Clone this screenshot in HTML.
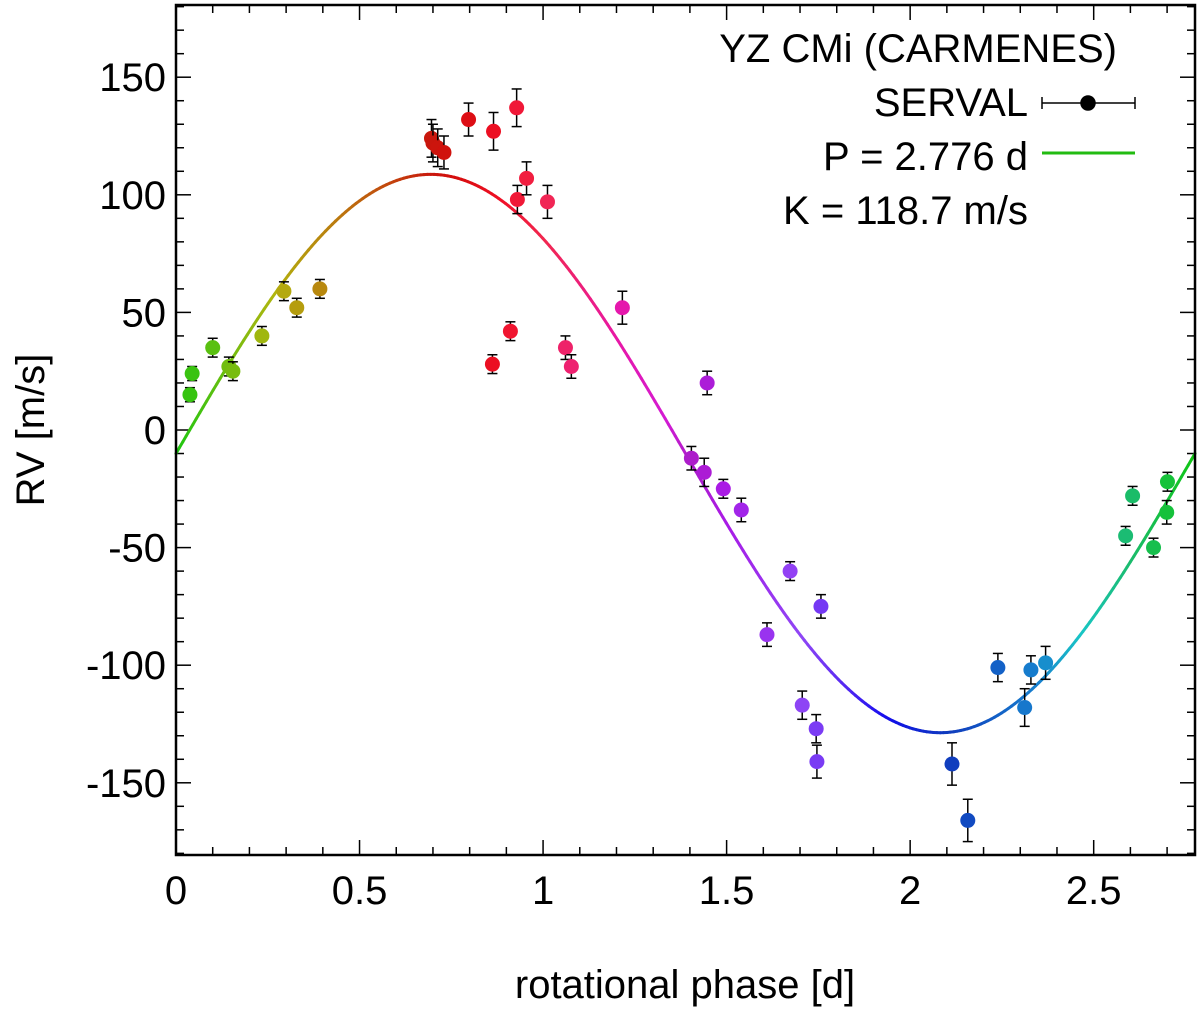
<!DOCTYPE html>
<html><head><meta charset="utf-8"><style>
body{margin:0;background:#fff}
svg{display:block;font-family:"Liberation Sans",sans-serif}
</style></head><body>
<svg id="c" width="1200" height="1010"></svg>
<script>
const phases=[0.044,0.038,0.10,0.144,0.155,0.234,0.294,0.329,0.392,0.696,0.70,0.713,0.73,0.797,0.865,0.862,0.911,0.928,0.93,0.955,1.012,1.061,1.077,1.216,1.404,1.439,1.447,1.491,1.54,1.61,1.673,1.757,1.706,1.744,1.746,2.114,2.157,2.239,2.312,2.329,2.369,2.587,2.606,2.663,2.699,2.701];
const rvs=[24,15,35,27,25,40,59,52,60,124,122,120,118,132,127,28,42,137,98,107,97,35,27,52,-12,-18,20,-25,-34,-87,-60,-75,-117,-127,-141,-142,-166,-101,-118,-102,-99,-45,-28,-50,-35,-22];
const errs=[3,3,4,4,4,4,4,4,4,8,8,8,7,7,8,4,4,8,6,7,7,5,5,7,5,6,5,4,5,5,4,5,6,6,7,9,9,6,8,6,7,4,4,4,5,4];
const xTicks=[0,0.5,1,1.5,2,2.5];
const xTickLabels=["0","0.5","1","1.5","2","2.5"];
const yTicks=[-150,-100,-50,0,50,100,150];
const yTickLabels=["-150","-100","-50","0","50","100","150"];
const P=2.776, K=118.7, off=-10;
const L=176,R=1195,T=5,B=855, X0=0,X1=2.776,Y0=-180.7,Y1=180.7;
const sx=v=>L+(v-X0)/(X1-X0)*(R-L);
const sy=v=>B-(v-Y0)/(Y1-Y0)*(B-T);
const svg=document.getElementById('c');const NS="http://www.w3.org/2000/svg";
function mk(t,a,p){const e=document.createElementNS(NS,t);for(const k in a)e.setAttribute(k,a[k]);(p||svg).appendChild(e);return e;}
// colour map control points [phase, hue, sat, light]
const cp=[[0,115,85,42],[0.3,55,85,38],[0.7,3,88,42],[1.0,-12,88,55],[1.4,-70,75,45],[1.7,-95,90,62],[2.1,-135,85,40],[2.35,-155,80,45],[2.6,-210,75,42],[2.776,-240,85,42]];
function col(ph){for(let i=0;i<cp.length-1;i++){const a=cp[i],b=cp[i+1];if(ph<=b[0]||i==cp.length-2){const t=Math.max(0,Math.min(1,(ph-a[0])/(b[0]-a[0])));
 const h=a[1]+(b[1]-a[1])*t,s=a[2]+(b[2]-a[2])*t,l=a[3]+(b[3]-a[3])*t;return `hsl(${((h%360)+360)%360},${s}%,${l}%)`;}}}
const tg=mk('g',{stroke:'#000','stroke-width':1.5});


for(let i=0;i<=27;i++){const v=i*0.1;const x=sx(v);const maj=Math.abs(v*2-Math.round(v*2))<1e-6;const l=maj?15:8;
 mk('line',{x1:x,y1:B,x2:x,y2:B-l},tg);mk('line',{x1:x,y1:T,x2:x,y2:T+l},tg);}
for(let v=-180;v<=180;v+=10){const y=sy(v);const l=v%50===0?15:8;
 mk('line',{x1:L,y1:y,x2:L+l,y2:y},tg);mk('line',{x1:R,y1:y,x2:R-l,y2:y},tg);}
xTicks.forEach((v,i)=>{const t=mk('text',{x:sx(v),y:904,'font-size':40,'text-anchor':'middle'});t.textContent=xTickLabels[i];

});
yTicks.forEach((v,i)=>{const t=mk('text',{x:166,y:sy(v)+14,'font-size':40,'text-anchor':'end'});t.textContent=yTickLabels[i];

});
const cg=mk('g',{'stroke-width':3,fill:'none'});


const N=300;for(let i=0;i<N;i++){const a=X1*i/N,b=X1*(i+1)/N;const f=p=>off+K*Math.sin(2*Math.PI*p/P);
 mk('line',{x1:sx(a),y1:sy(f(a)),x2:sx(b),y2:sy(f(b)),stroke:col(a),'stroke-linecap':'round'},cg);}
phases.forEach((p,i)=>{const g=mk('g',{});
 
 
 const x=sx(p),y1=sy(rvs[i]+errs[i]),y2=sy(rvs[i]-errs[i]);
 mk('line',{x1:x,y1:y1,x2:x,y2:y2,stroke:'#000','stroke-width':1.5},g);
 mk('line',{x1:x-5,y1:y1,x2:x+5,y2:y1,stroke:'#000','stroke-width':1.5},g);
 mk('line',{x1:x-5,y1:y2,x2:x+5,y2:y2,stroke:'#000','stroke-width':1.5},g);
 mk('circle',{cx:x,cy:sy(rvs[i]),r:7.5,fill:col(p)},g);});
const fr=mk('rect',{x:L,y:T,width:R-L,height:B-T,fill:'none',stroke:'#000','stroke-width':2.5});


</script>
<svg style="position:absolute;left:0;top:0" width="1200" height="1010">
<text x="685" y="998" font-size="40" text-anchor="middle" font-family="Liberation Sans, sans-serif">rotational phase [d]</text>
<text transform="translate(44,430) rotate(-90)" font-size="40" text-anchor="middle" font-family="Liberation Sans, sans-serif">RV [m/s]</text>
<g font-size="40" text-anchor="end" font-family="Liberation Sans, sans-serif">
<text x="1117" y="62">YZ CMi (CARMENES)</text>
<text x="1028" y="116">SERVAL</text>
<text x="1028" y="170">P = 2.776 d</text>
<text x="1028" y="224">K = 118.7 m/s</text>
</g>
<g stroke="#000" stroke-width="1.5">
<line x1="1042" y1="103" x2="1135" y2="103"/><line x1="1042" y1="97" x2="1042" y2="109"/><line x1="1135" y1="97" x2="1135" y2="109"/>
<circle cx="1088" cy="103" r="7" fill="#000"/></g>
<line x1="1042" y1="153" x2="1135" y2="153" stroke="#22bb11" stroke-width="3"/>
</svg>
</body></html>
